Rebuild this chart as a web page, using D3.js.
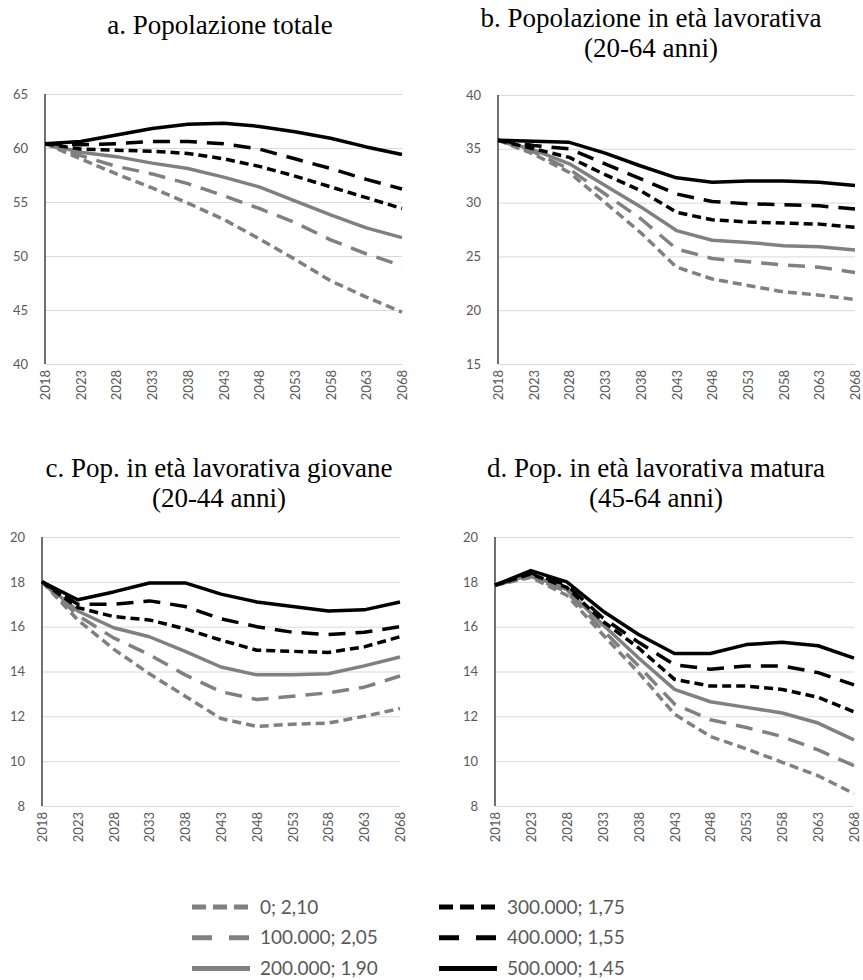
<!DOCTYPE html>
<html>
<head>
    <meta charset="utf-8">
    <title>Popolazione - scenari migratori e di fecondità</title>
    <script src="https://cdn.jsdelivr.net/npm/d3@7/dist/d3.min.js"></script>
    <style>
        body {
            margin: 0;
            background: #fff;
        }
        svg {
            display: block;
        }
        .title {
            font-family: "Liberation Serif", serif;
            font-size: 27px;
            fill: #000;
        }
        .axis text {
            font-family: Lato, sans-serif;
            font-size: 13px;
            fill: #595959;
        }
        .legend text {
            font-family: Lato, sans-serif;
            font-size: 19px;
            fill: #595959;
        }
    </style>
</head>
<body>
<script>
    // anni della proiezione
    var years = ['2018', '2023', '2028', '2033', '2038', '2043', '2048', '2053', '2058', '2063', '2068'];

    // scenari: saldo migratorio; fecondità
    var scenarios = ['0; 2,10', '100.000; 2,05', '200.000; 1,90', '300.000; 1,75', '400.000; 1,55', '500.000; 1,45'];

    // a. popolazione totale (milioni)
    var popTotale = [
        [60.4, 59.0, 57.6, 56.3, 54.9, 53.4, 51.6, 49.7, 47.7, 46.2, 44.8],
        [60.4, 59.3, 58.3, 57.6, 56.7, 55.6, 54.4, 53.1, 51.5, 50.2, 49.1],
        [60.4, 59.6, 59.2, 58.6, 58.1, 57.3, 56.4, 55.1, 53.8, 52.6, 51.7],
        [60.4, 59.9, 59.8, 59.7, 59.5, 59.0, 58.3, 57.4, 56.4, 55.4, 54.4],
        [60.4, 60.3, 60.4, 60.6, 60.6, 60.4, 59.9, 59.0, 58.1, 57.1, 56.2],
        [60.4, 60.6, 61.2, 61.8, 62.2, 62.3, 62.0, 61.5, 60.9, 60.1, 59.4]
    ];

    // b. popolazione in età lavorativa 20-64
    var popLavorativa = [
        [35.8, 34.5, 32.8, 30.0, 27.2, 24.0, 22.9, 22.3, 21.7, 21.4, 21.0],
        [35.8, 34.7, 33.1, 30.8, 28.5, 25.7, 24.8, 24.5, 24.2, 24.0, 23.5],
        [35.8, 34.9, 33.6, 31.6, 29.6, 27.4, 26.5, 26.3, 26.0, 25.9, 25.6],
        [35.8, 35.0, 34.2, 32.6, 31.1, 29.1, 28.4, 28.2, 28.1, 28.0, 27.7],
        [35.8, 35.3, 35.0, 33.6, 32.2, 30.8, 30.1, 29.9, 29.8, 29.7, 29.4],
        [35.8, 35.7, 35.6, 34.6, 33.4, 32.3, 31.9, 32.0, 32.0, 31.9, 31.6]
    ];

    // c. popolazione in età lavorativa giovane 20-44
    var popGiovane = [
        [18.0, 16.3, 15.0, 13.9, 12.9, 11.9, 11.55, 11.65, 11.7, 12.0, 12.35],
        [18.0, 16.5, 15.5, 14.75, 13.85, 13.1, 12.75, 12.9, 13.05, 13.3, 13.8],
        [18.0, 16.7, 15.95, 15.55, 14.9, 14.2, 13.85, 13.85, 13.9, 14.25, 14.65],
        [18.0, 16.85, 16.45, 16.3, 15.9, 15.4, 14.95, 14.9, 14.85, 15.1, 15.55],
        [18.0, 17.0, 17.0, 17.15, 16.9, 16.35, 16.0, 15.75, 15.65, 15.75, 16.0],
        [18.0, 17.2, 17.55, 17.95, 17.95, 17.45, 17.1, 16.9, 16.7, 16.75, 17.1]
    ];

    // d. popolazione in età lavorativa matura 45-64
    var popMatura = [
        [17.85, 18.2, 17.4, 15.65, 13.95, 12.1, 11.1, 10.55, 9.95, 9.35, 8.55],
        [17.85, 18.25, 17.55, 15.85, 14.25, 12.55, 11.85, 11.5, 11.1, 10.5, 9.8],
        [17.85, 18.3, 17.65, 16.1, 14.6, 13.2, 12.65, 12.4, 12.15, 11.7, 10.95],
        [17.85, 18.35, 17.75, 16.25, 15.05, 13.65, 13.35, 13.35, 13.2, 12.85, 12.2],
        [17.85, 18.4, 17.85, 16.4, 15.3, 14.3, 14.1, 14.25, 14.25, 13.95, 13.4],
        [17.85, 18.5, 18.0, 16.7, 15.65, 14.8, 14.8, 15.2, 15.3, 15.15, 14.6]
    ];

    var colors = ['#808080', '#808080', '#808080', '#000', '#000', '#000'];
    var dashes = ['9,5', '17,10', null, '9,5', '17,10', null];

    var panels = [
        {title: ['a. Popolazione totale'], tx: 220, ty: 34, data: popTotale,
            left: 45, right: 402, top: 94, bottom: 364, min: 40, max: 65, step: 5},
        {title: ['b. Popolazione in età lavorativa', '(20-64 anni)'], tx: 651, ty: 27, data: popLavorativa,
            left: 498, right: 855, top: 95, bottom: 364, min: 15, max: 40, step: 5},
        {title: ['c. Pop. in età lavorativa giovane', '(20-44 anni)'], tx: 219, ty: 477, data: popGiovane,
            left: 42, right: 400, top: 537, bottom: 806, min: 8, max: 20, step: 2},
        {title: ['d. Pop. in età lavorativa matura', '(45-64 anni)'], tx: 656, ty: 477, data: popMatura,
            left: 495, right: 854, top: 537, bottom: 806, min: 8, max: 20, step: 2}
    ];

    var svg = d3.select('body').append('svg')
            .attr('width', 863)
            .attr('height', 980);

    function drawPanel(p) {
        var x = d3.scalePoint().domain(years).range([p.left, p.right]);
        var y = d3.scaleLinear().domain([p.min, p.max]).range([p.bottom, p.top]);
        var g = svg.append('g');

        g.append('text')
                .attr('class', 'title')
                .attr('text-anchor', 'middle')
                .selectAll('tspan').data(p.title).enter()
                .append('tspan')
                .attr('x', p.tx)
                .attr('y', function (d, i) { return p.ty + i * 30; })
                .text(function (d) { return d; });

        // griglia + etichette asse y
        var yAxis = g.append('g').attr('class', 'axis')
                .attr('transform', 'translate(' + p.left + ',0)')
                .call(d3.axisLeft(y)
                        .tickValues(d3.range(p.min, p.max + 0.001, p.step))
                        .tickSize(-(p.right - p.left))
                        .tickPadding(17));
        yAxis.select('.domain').remove();
        yAxis.selectAll('.tick line').attr('stroke', '#d9d9d9').attr('stroke-width', 1);

        var xAxis = g.append('g').attr('class', 'axis')
                .attr('transform', 'translate(0,' + p.bottom + ')')
                .call(d3.axisBottom(x).tickSize(0).tickPadding(0));
        xAxis.select('.domain').remove();
        xAxis.selectAll('text')
                .attr('transform', 'rotate(-90)')
                .attr('text-anchor', 'end')
                .attr('x', -6)
                .attr('y', 0)
                .attr('dy', '0.35em');

        g.append('line')
                .attr('x1', p.left).attr('x2', p.left)
                .attr('y1', p.top).attr('y2', p.bottom)
                .attr('stroke', '#404040')
                .attr('stroke-width', 1.5);

        var line = d3.line()
                .x(function (d, i) { return x(years[i]); })
                .y(function (d) { return y(d); });

        g.selectAll('path.serie').data(p.data).enter()
                .append('path')
                .attr('class', 'serie')
                .attr('d', line)
                .attr('fill', 'none')
                .attr('stroke', function (d, i) { return colors[i]; })
                .attr('stroke-width', 3.5)
                .attr('stroke-dasharray', function (d, i) { return dashes[i]; })
                .attr('stroke-linejoin', 'round');
    }

    panels.forEach(drawPanel);

    // legenda
    var legend = svg.append('g').attr('class', 'legend');
    var item = legend.selectAll('g').data(scenarios).enter()
            .append('g')
            .attr('transform', function (d, i) {
                return 'translate(' + (i < 3 ? 192 : 439) + ',' + (907 + (i % 3) * 30.7) + ')';
            });
    item.append('line')
            .attr('x1', 0).attr('x2', 58)
            .attr('stroke', function (d, i) { return colors[i]; })
            .attr('stroke-width', 5)
            .attr('stroke-dasharray', function (d, i) { return dashes[i] ? (i % 3 === 0 ? '14,7' : '20,17') : null; });
    item.append('text')
            .attr('x', 68)
            .attr('dy', '0.35em')
            .text(function (d) { return d; });
</script>
</body>
</html>
